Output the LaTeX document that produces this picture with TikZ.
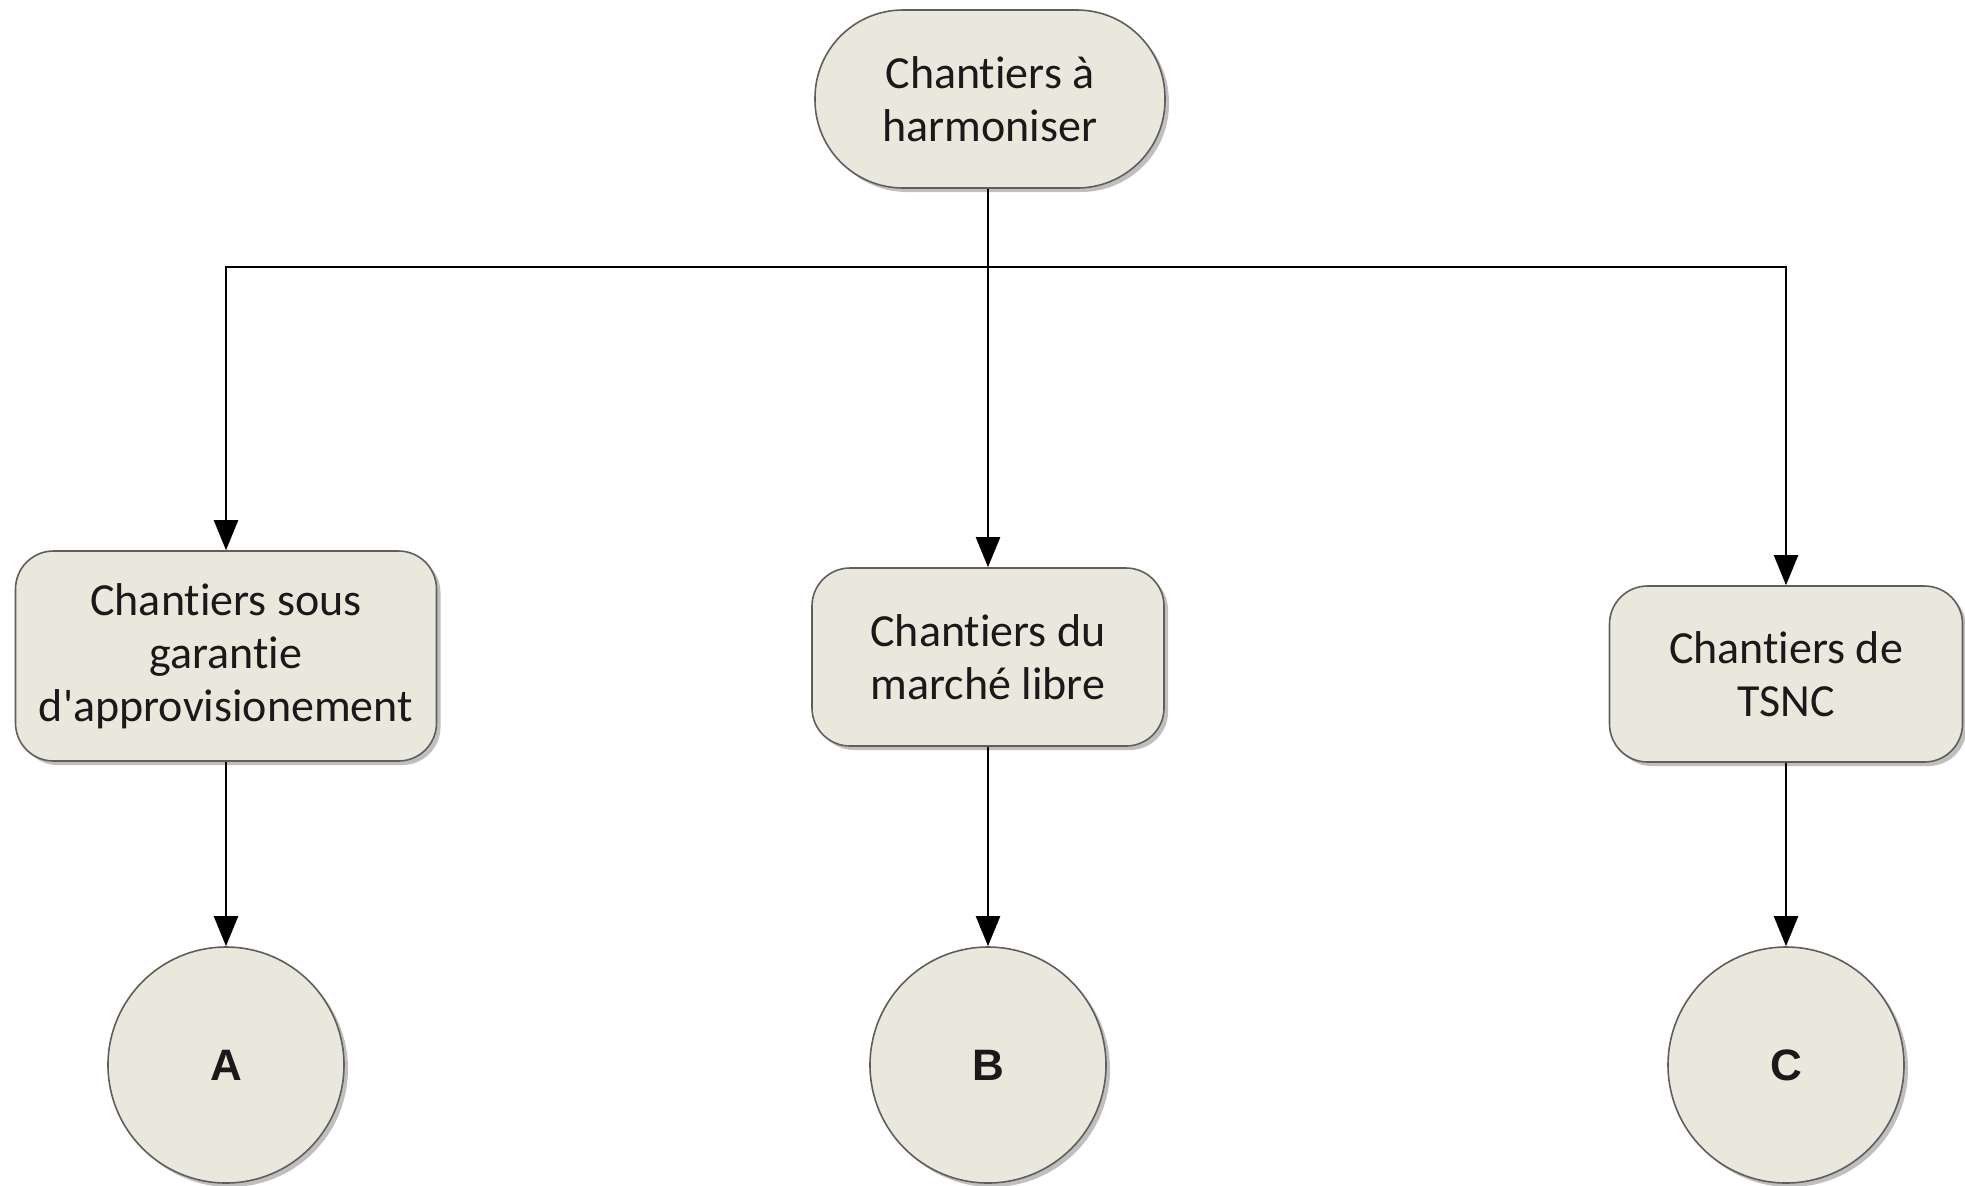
\documentclass[tikz,border=0pt]{standalone}
\usepackage{fontspec}
\setmainfont{Carlito}[Ligatures={NoCommon,TeXOff}]
\newfontfamily\letterfont{Liberation Sans}
\usetikzlibrary{arrows.meta,shadows}
\definecolor{boxfill}{HTML}{EAE7DC}
\definecolor{boxline}{HTML}{5E5E5E}
\tikzset{
  x=0.5pt, y=-0.5pt,
  base/.style={draw=boxline, line width=0.8pt, fill=boxfill, align=center,
    font=\fontsize{23}{26.6}\selectfont, text=black!90,
    drop shadow={shadow xshift=2pt, shadow yshift=-2pt, opacity=0.25, fill=black}},
  stadium/.style={base, rounded corners=44pt, minimum width=175pt, minimum height=89pt, inner sep=0pt},
  catbox/.style={base, rounded corners=19pt, inner sep=0pt},
  endcircle/.style={base, circle, minimum size=118pt, inner sep=0pt,
    font=\letterfont\bfseries\fontsize{22}{24}\selectfont},
  conn/.style={line width=1.1pt, black},
  arr/.style={conn, -{Triangle[length=15pt,width=12pt]}}
}
\begin{document}
\begin{tikzpicture}
\useasboundingbox (0,0) rectangle (1965,1185);
\node[stadium] (top) at (990,99) {Chantiers à\\harmoniser};
\node[catbox, minimum width=210.5pt, minimum height=105pt] (left) at (226,656) {Chantiers sous\\garantie\\d'approvisionement};
\node[catbox, minimum width=176pt, minimum height=89pt] (mid) at (988,657) {Chantiers du\\marché libre};
\node[catbox, minimum width=176.5pt, minimum height=88pt] (right) at (1786,674) {Chantiers de\\TSNC};
\node[endcircle] (A) at (226,1065) {A};
\node[endcircle] (B) at (988,1065) {B};
\node[endcircle] (C) at (1786,1065) {C};
\coordinate (j) at (988,267);
\draw[arr] (top.south -| mid.north) -- (mid.north);
\draw[arr] (j) -| (left.north);
\draw[arr] (j) -| (right.north);
\draw[arr] (left.south) -- (A.north);
\draw[arr] (mid.south) -- (B.north);
\draw[arr] (right.south) -- (C.north);
\end{tikzpicture}
\end{document}
